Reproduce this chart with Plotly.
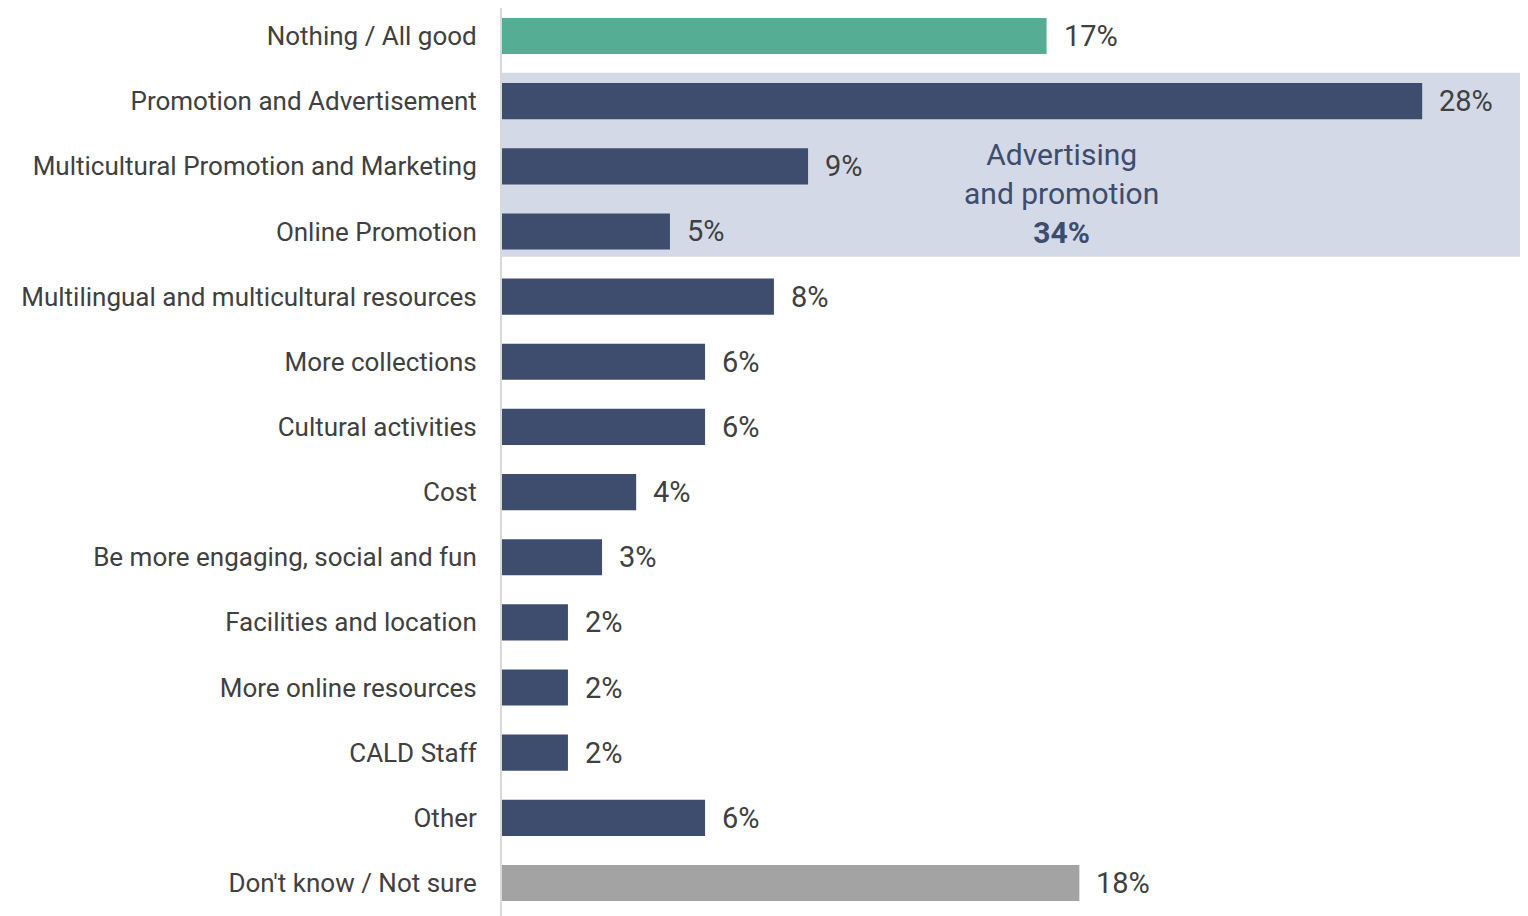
import plotly.graph_objects as go

categories = [
    "Nothing / All good",
    "Promotion and Advertisement",
    "Multicultural Promotion and Marketing",
    "Online Promotion",
    "Multilingual and multicultural resources",
    "More collections",
    "Cultural activities",
    "Cost",
    "Be more engaging, social and fun",
    "Facilities and location",
    "More online resources",
    "CALD Staff",
    "Other",
    "Don't know / Not sure",
]
values = [16.6, 28.05, 9.33, 5.12, 8.29, 6.19, 6.19, 4.09, 3.05, 2.01, 2.01, 2.01, 6.19, 17.6]
labels = ["17%", "28%", "9%", "5%", "8%", "6%", "6%", "4%", "3%", "2%", "2%", "2%", "6%", "18%"]
group_label = "Advertising<br>and promotion<br><b>34%</b>"
group_rows = ["Promotion and Advertisement", "Online Promotion"]

GREEN = "#55ae94"
NAVY = "#3e4c6e"
GREY = "#a3a3a3"
SHADE = "#d3d9e6"
TEXT = "#404040"
FONT = "Roboto"

colors = [GREEN] + [NAVY] * 12 + [GREY]

fig = go.Figure()
fig.add_trace(go.Bar(
    x=values, y=categories, orientation="h",
    marker=dict(color=colors, line=dict(width=0)),
    width=0.555, hoverinfo="skip",
))

for v, c, t in zip(values, categories, labels):
    fig.add_annotation(x=v, y=c, text=t, showarrow=False, xanchor="left",
                       xshift=15, font=dict(family=FONT, size=29, color=TEXT))

i0 = categories.index(group_rows[0])
i1 = categories.index(group_rows[1])
fig.add_shape(type="rect", xref="paper", yref="y",
              x0=0, x1=1, y0=i0 - 0.437, y1=i1 + 0.39,
              fillcolor=SHADE, line=dict(width=0), layer="below")
fig.add_annotation(x=17.07, y=(i0 + i1) / 2 + 0.41, text=group_label, showarrow=False,
                   xanchor="center", yanchor="middle",
                   font=dict(family=FONT, size=30, color=NAVY))

fig.update_layout(
    width=1528, height=916,
    margin=dict(l=494, r=0, t=0, b=0),
    plot_bgcolor="white", paper_bgcolor="white",
    showlegend=False,
    xaxis=dict(range=[0, 31.52], visible=False, fixedrange=True),
    yaxis=dict(range=[13.63, -0.43], showline=True, linecolor="#d9d9d9", linewidth=2,
               showgrid=False, ticks="", ticklabelstandoff=18,
               tickfont=dict(family=FONT, size=26, color=TEXT)),
)

fig.write_html("out.html")
